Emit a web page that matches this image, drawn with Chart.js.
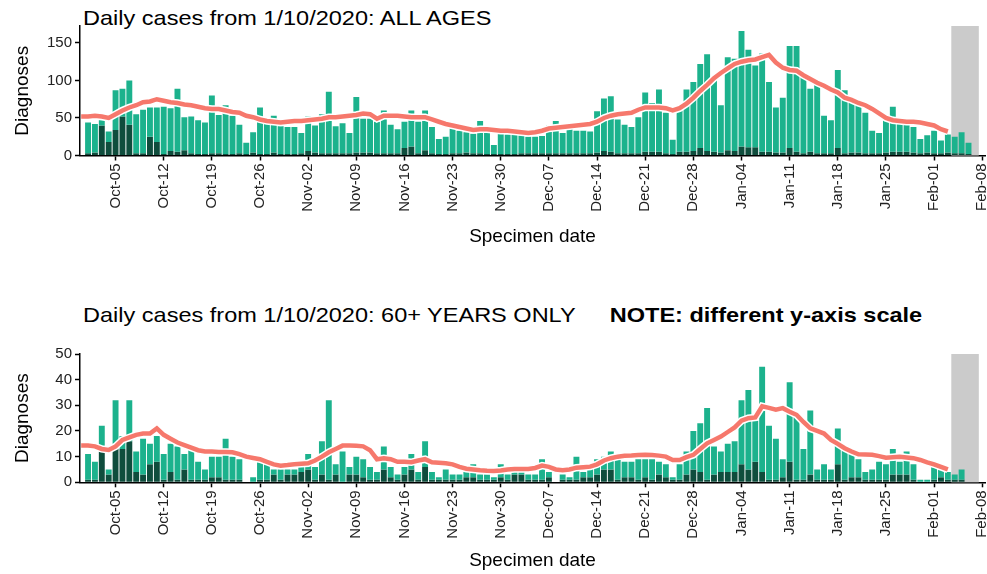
<!DOCTYPE html>
<html>
<head>
<meta charset="utf-8">
<script src="https://cdn.jsdelivr.net/npm/chart.js@4.4.0/dist/chart.umd.min.js"></script>
<style>
  body { margin: 0; background: #fff; width: 987px; height: 574px; overflow: hidden; position: relative;
         font-family: "Liberation Sans", Arial, sans-serif; }
  .title { position: absolute; left: 83px; font-size: 21px; line-height: 21px; color: #000; white-space: nowrap;
           transform: scaleX(1.12); transform-origin: left top; }
  .title b { margin-left: 25px; }
  .wrap { position: absolute; left: 0; width: 987px; }
</style>
</head>
<body>
<div class="title" style="top:7px">Daily cases from 1/10/2020: ALL AGES</div>
<div class="title" style="top:304px">Daily cases from 1/10/2020: 60+ YEARS ONLY <b>NOTE: different y-axis scale</b></div>
<div class="wrap" style="top:0;height:250px"><canvas id="allChart"></canvas></div>
<div class="wrap" style="top:328px;height:246px"><canvas id="oldChart"></canvas></div>
<script>
// bar i = day i counted from 1 Oct 2020
const tickDays = [4, 11, 18, 25, 32, 39, 46, 53, 60, 67, 74, 81, 88, 95, 102, 109, 116, 123, 130];
const tickLabels = ["Oct-05", "Oct-12", "Oct-19", "Oct-26", "Nov-02", "Nov-09", "Nov-16", "Nov-23", "Nov-30",
  "Dec-07", "Dec-14", "Dec-21", "Dec-28", "Jan-04", "Jan-11", "Jan-18", "Jan-25", "Feb-01", "Feb-08"];

// incomplete-data window (grey band), in days
const greyFrom = 125.5;
const greyTo = 129.5;

// all ages: total diagnoses per day and darker lower part
const allTotal = [44,42,47,32,87,89,100,55,61,64,
  64,65,63,89,51,52,47,44,80,54,
  67,53,41,17,31,64,42,53,39,38,
  38,30,52,40,55,85,39,43,30,78,
  49,49,45,60,41,35,45,60,45,60,
  38,22,25,36,33,31,29,46,30,14,
  29,28,28,27,25,25,26,40,46,30,
  43,33,33,32,59,76,79,48,41,38,
  51,84,70,88,57,21,60,88,98,122,
  135,104,67,131,129,166,141,120,136,98,
  64,77,146,146,105,89,98,53,47,114,
  87,71,70,57,33,30,47,65,42,49,
  38,22,27,33,20,28,25,31,17];
const allDark = [3,4,40,18,34,52,41,3,3,25,
  18,2,6,5,7,3,2,2,3,3,
  2,2,3,2,4,2,2,4,2,2,
  2,3,6,4,3,3,3,3,3,4,
  4,4,3,3,3,3,10,12,3,7,
  3,2,2,3,3,4,3,3,2,2,
  2,2,2,3,3,3,3,3,3,3,
  3,3,3,3,4,6,5,3,3,3,
  3,5,5,5,3,2,5,5,6,10,
  6,5,4,7,6,12,11,11,5,5,
  4,4,10,5,3,5,3,3,3,10,
  3,4,4,3,3,3,4,5,5,5,
  4,3,4,3,3,4,3,3,2];
// rolling average, first value is 30 Sep
const allAvg = [52,
  52,53,52,50,55,60,64,67,71,72,
  75,73,71,70,68,67,65,63,62,62,
  60,58,57,53,51,48,46,45,44,45,
  46,46,47,48,49,51,51,52,53,54,
  56,55,49,53,53,53,52,51,51,51,
  48,45,42,40,38,36,34,35,35,34,
  33,33,32,31,30,31,33,36,37,38,
  39,40,41,42,45,50,53,55,56,57,
  61,64,64,64,63,60,63,69,77,86,
  94,103,110,116,122,125,127,128,131,134,
  124,117,114,113,107,102,97,93,88,84,
  77,74,70,67,62,56,50,47,46,45,
  45,44,42,40,35,32];

// 60+ years
const oldTotal = [11,8,22,5,32,18,32,12,17,15,
  18,11,15,14,11,13,8,5,10,10,
  17,10,9,0,2,8,7,5,5,5,
  5,6,11,6,16,32,7,12,6,10,
  9,6,4,14,6,3,6,11,4,16,
  4,2,5,3,3,4,7,3,3,2,
  7,3,4,4,3,3,9,4,0,3,
  2,10,4,7,9,10,12,11,8,8,
  9,9,9,8,7,2,7,12,20,23,
  29,14,12,15,16,32,36,24,45,22,
  17,9,39,26,13,28,5,7,5,21,
  13,11,9,4,5,8,7,13,8,12,
  7,1,1,6,5,4,3,5,0];
const oldDark = [1,1,12,3,13,13,16,4,3,7,
  8,1,4,1,5,1,1,1,2,2,
  1,1,1,0,0,1,1,3,1,3,
  3,4,5,1,3,1,3,0,3,3,
  2,1,1,5,2,1,3,5,1,6,
  1,1,1,1,1,2,2,1,1,1,
  2,1,3,3,1,1,1,2,0,1,
  1,1,2,2,3,5,5,1,2,2,
  1,2,1,3,2,1,1,3,5,4,
  1,3,4,4,4,7,5,8,4,1,
  1,2,8,1,1,3,1,1,1,7,
  1,2,2,1,1,1,1,3,3,3,
  1,0,0,1,2,1,1,1,0];
const oldAvg = [14.3,
  14.3,14,13,12.6,14,16.5,17.5,18.5,19,19,
  21,18.5,17,15.5,14.5,13.5,12.5,12,12,11.8,
  11.8,11.7,11,10,9.5,9,8,7,6.5,6.7,
  7,7.2,7.4,8.5,10,11.7,13,14.3,14.3,14.2,
  14,12.5,9,9.4,9,8,8,7.8,8.5,9,
  7.8,7.6,7.4,7,6,5.3,5,4.7,4.5,4.4,
  4.6,5,5.2,5.2,5.2,5.6,6.5,6,5,4.7,
  5,5.7,5.9,6.1,7,8.5,9.4,10,10.3,10.4,
  10.6,10.7,10.6,10.4,10,8.7,8.7,9.8,10.7,13,
  15.2,16.5,17.8,19.6,21.4,24,25,25.3,29.6,29,
  28.3,28.9,27.5,26.3,23.5,21,20,19,16.5,15,
  13.3,12,10.9,10.8,10.7,10.2,9.6,9.8,10,9.7,
  9.4,8.7,7.8,7,6,5];

const TEAL = "#1cb28d";
const DARK = "#0f4d3d";
const RED = "#f6786c";

Chart.defaults.font.family = '"Liberation Sans", Arial, sans-serif';
Chart.defaults.animation = false;

const greyBand = {
  id: "greyBand",
  beforeDatasetsDraw(chart) {
    const { ctx, chartArea, scales } = chart;
    const x0 = scales.x.getPixelForValue(greyFrom);
    const x1 = scales.x.getPixelForValue(greyTo);
    ctx.save();
    ctx.fillStyle = "#cbcbcb";
    ctx.fillRect(x0, chartArea.top, x1 - x0, chartArea.bottom - chartArea.top);
    ctx.restore();
  },
};

function drawPanel(id, total, dark, avg, yMax, yStep, xHeight) {
  const barsDark = dark.map((v, i) => ({ x: i, y: [0, v] }));
  const barsTeal = total.map((v, i) => ({ x: i, y: [dark[i], v] }));
  const line = avg.map((v, i) => ({ x: i - 1, y: v }));
  const barStyle = { type: "bar", grouped: false, categoryPercentage: 1, barPercentage: 0.86, borderWidth: 0 };

  return new Chart(document.getElementById(id), {
    data: {
      datasets: [
        { type: "line", data: line, borderColor: RED, borderWidth: 4.5, pointRadius: 0, order: 0, clip: 0 },
        { type: "line", data: line, borderColor: "#ffffff", borderWidth: 7.5, pointRadius: 0, order: 1, clip: 0 },
        { ...barStyle, data: barsTeal, backgroundColor: TEAL, order: 2 },
        { ...barStyle, data: barsDark, backgroundColor: DARK, order: 3 },
      ],
    },
    options: {
      responsive: true,
      maintainAspectRatio: false,
      layout: { padding: { top: 26, right: 2, left: 0, bottom: 0 } },
      plugins: { legend: { display: false }, tooltip: { enabled: false } },
      scales: {
        x: {
          type: "linear",
          offset: false,
          min: -1.17,
          max: 130.4,
          border: { color: "#000", width: 1.5 },
          grid: { offset: false, drawOnChartArea: false, tickLength: 5, tickColor: "#000", tickWidth: 1.5 },
          afterBuildTicks: (scale) => { scale.ticks = tickDays.map((v) => ({ value: v })); },
          afterFit: (scale) => { scale.height = xHeight; scale.paddingLeft = 0; scale.paddingRight = 0; },
          ticks: {
            autoSkip: false, minRotation: 90, maxRotation: 90, padding: 3,
            color: "#222", font: { size: 15 },
            callback: (v, i) => tickLabels[i],
          },
          title: { display: true, text: "Specimen date", color: "#000", font: { size: 19 }, padding: { top: 0, bottom: 2 } },
        },
        y: {
          min: 0,
          max: yMax,
          border: { color: "#000", width: 1.5 },
          grid: { drawOnChartArea: false, tickLength: 5, tickColor: "#000", tickWidth: 1.5 },
          afterFit: (scale) => { scale.width = 80; scale.paddingTop = 0; scale.paddingBottom = 0; },
          ticks: { stepSize: yStep, includeBounds: false, padding: 3, color: "#222", font: { size: 15 } },
          title: { display: true, text: "Diagnoses", color: "#000", font: { size: 19 }, padding: { top: 11, bottom: 0 } },
        },
      },
    },
    plugins: [greyBand],
  });
}

drawPanel("allChart", allTotal, allDark, allAvg, 172.6, 50, 94.5);
drawPanel("oldChart", oldTotal, oldDark, oldAvg, 50, 10, 91.7);
</script>
</body>
</html>
